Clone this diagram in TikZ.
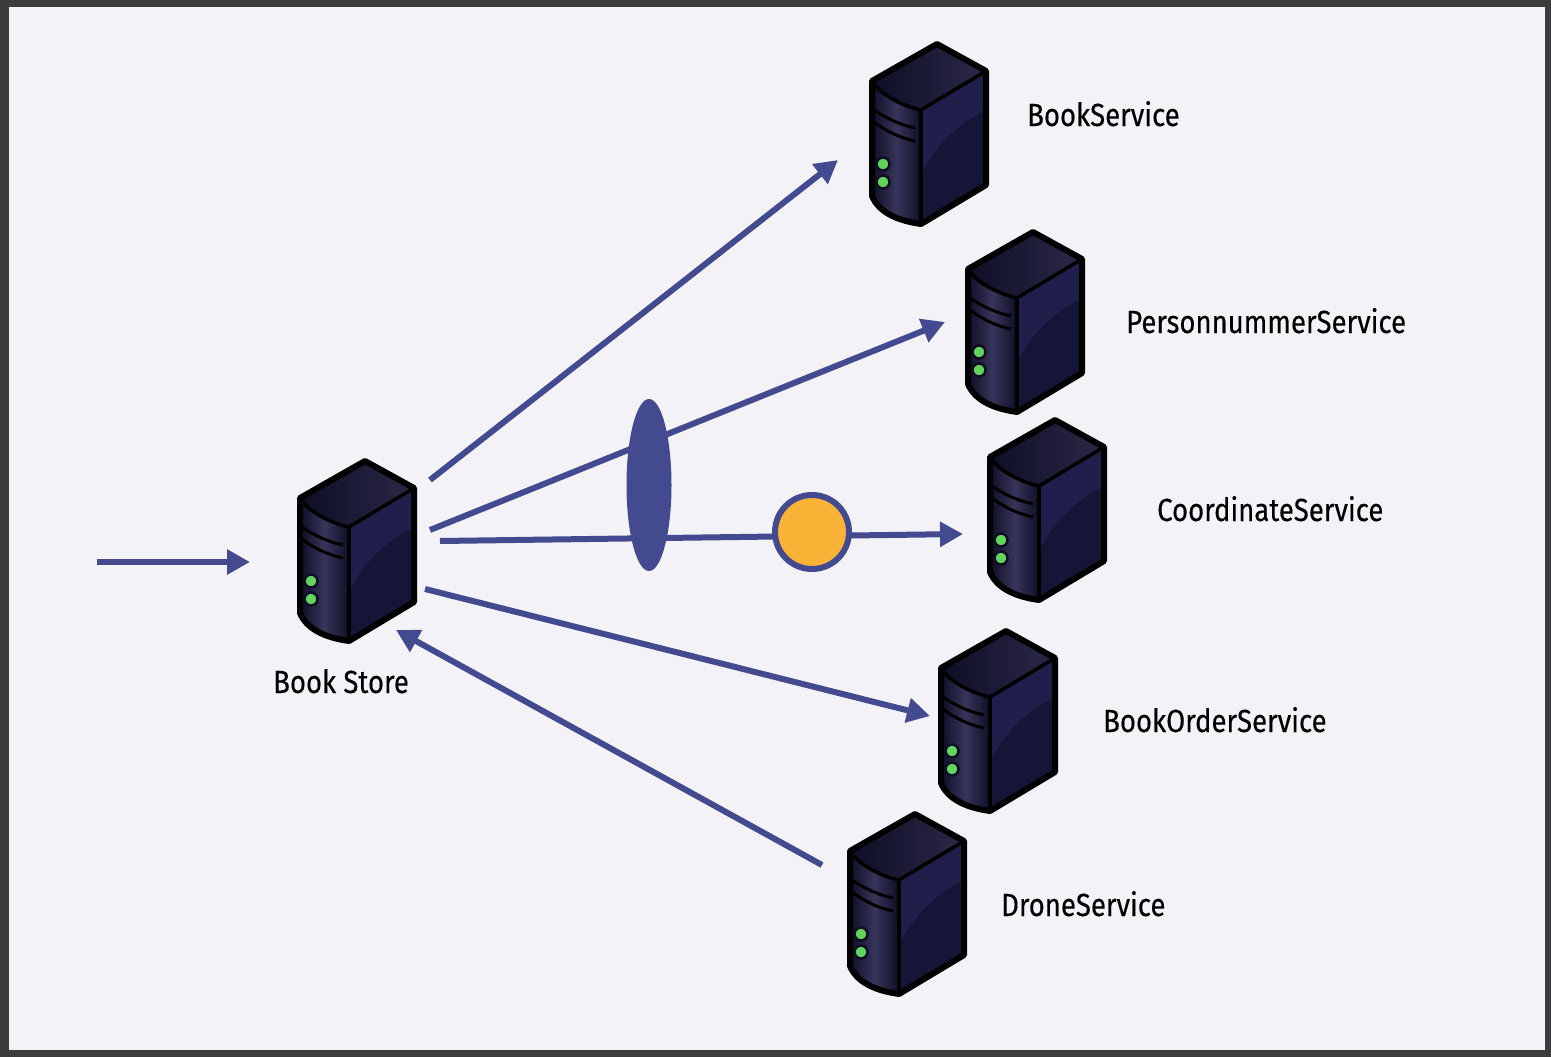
\documentclass[tikz,border=0pt]{standalone}
\usepackage{fontspec}
\setmainfont{Fira Sans}[FakeStretch=0.86,FakeBold=0.35]
\usetikzlibrary{arrows.meta,shapes.geometric}
\definecolor{flow}{HTML}{444A90}
\definecolor{paper}{HTML}{F3F3F7}
\definecolor{frame}{HTML}{3C3C3C}
\definecolor{token}{HTML}{FBB337}
\definecolor{led}{HTML}{62D45C}
\definecolor{casetop}{HTML}{2B2947}
\definecolor{casedark}{HTML}{0E0E26}
\definecolor{casefront}{HTML}{37355A}
\definecolor{caseside}{HTML}{201F4C}
\definecolor{caselow}{HTML}{151538}
\tikzset{
  flowline/.style={draw=flow,line width=6pt,-{Triangle[length=23pt,width=24pt]}},
  servicebox/.style={minimum width=120pt,minimum height=185pt,inner sep=0pt},
  svclabel/.style={anchor=base west,inner sep=0pt,font=\fontsize{32}{36}\selectfont,text=black},
  pics/server/.style={code={
    % origin is the centre of the box, apex is at (8,-90)
    \path[left color=casedark,right color=casetop] (-57,-52) -- (8,-89) -- (57,-62) -- (-8,-23) .. controls (-30,-28) and (-50,-40) .. cycle;
    \path[left color=casedark,right color=casedark,middle color=casefront] (-57,-52) .. controls (-50,-40) and (-30,-28) .. (-8,-23) -- (-8,91) .. controls (-30,88) and (-50,80) .. (-57,63) -- cycle;
    \path[fill=caselow] (-8,-23) -- (57,-62) -- (57,52) -- (-8,91) -- cycle;
    \path[fill=caseside] (-8,-23) -- (57,-62) -- (57,-23) .. controls (30,-10) and (6,12) .. (-8,42) -- cycle;
    \draw[black,line width=6pt,line join=round] (-57,-52) -- (8,-89) -- (57,-62) -- (57,52) -- (-8,91) .. controls (-30,88) and (-50,80) .. (-57,63) -- cycle;
    \draw[black,line width=3.5pt] (-57,-52) .. controls (-50,-40) and (-30,-28) .. (-8,-23) -- (57,-62);
    \draw[black,line width=3.5pt] (-8,-23) -- (-8,91);
    \draw[black,line width=3pt] (-55,-23) .. controls (-42,-14) and (-28,-8) .. (-14,-5);
    \draw[black,line width=3pt] (-55,-11) .. controls (-42,-1) and (-28,5) .. (-14,8);
    \foreach \ledy in {31,49}
      \draw[fill=led,draw=casedark,line width=2.5pt] (-46,\ledy) circle (6.5);
  }}
}
\begin{document}
\begin{tikzpicture}[x=1pt,y=-1pt]
\useasboundingbox (0,0) rectangle (1551,1057);
\fill[frame] (0,0) rectangle (1551,1057);
\fill[paper] (9,7) rectangle (1545,1050);
% servers
\node[servicebox] (store) at (357,550) {};
\node[servicebox] (book) at (929,133) {};
\node[servicebox] (person) at (1025,321) {};
\node[servicebox] (coord) at (1047,509) {};
\node[servicebox] (order) at (998,720) {};
\node[servicebox] (drone) at (907,903) {};
\foreach \srv in {store,book,person,coord,order,drone}
  \pic at (\srv) {server};
% labels
\node[svclabel] (storetxt) at (273,693) {Book Store};
\node[svclabel] (booktxt) at (1027,126) {BookService};
\node[svclabel] (persontxt) at (1126,333) {PersonnummerService};
\node[svclabel] (coordtxt) at (1157,521) {CoordinateService};
\node[svclabel] (ordertxt) at (1103,732) {BookOrderService};
\node[svclabel] (dronetxt) at (1001,916) {DroneService};
% connector ends
\coordinate (inS) at (97,562);
\coordinate (inE) at (250,562);
\coordinate (bookS) at (430,480);
\coordinate (bookE) at (838,160);
\coordinate (personS) at (430,530);
\coordinate (personE) at (945,322);
\coordinate (coordS) at (440,541);
\coordinate (coordE) at (963,534);
\coordinate (orderS) at (425,589);
\coordinate (orderE) at (930,716);
\coordinate (droneS) at (822,865);
\coordinate (droneE) at (396,630);
\draw[flowline] (inS) -- (inE);
\draw[flowline] (bookS) -- (bookE);
\draw[flowline] (personS) -- (personE);
\draw[flowline] (coordS) -- (coordE);
\draw[flowline] (orderS) -- (orderE);
\draw[flowline] (droneS) -- (droneE);
% split and token
\node[ellipse,fill=flow,minimum width=45pt,minimum height=172pt,inner sep=0pt] (split) at (649,485) {};
\node[circle,fill=token,draw=flow,line width=6pt,minimum size=74pt,inner sep=0pt] (tok) at (812,532) {};
\end{tikzpicture}
\end{document}
